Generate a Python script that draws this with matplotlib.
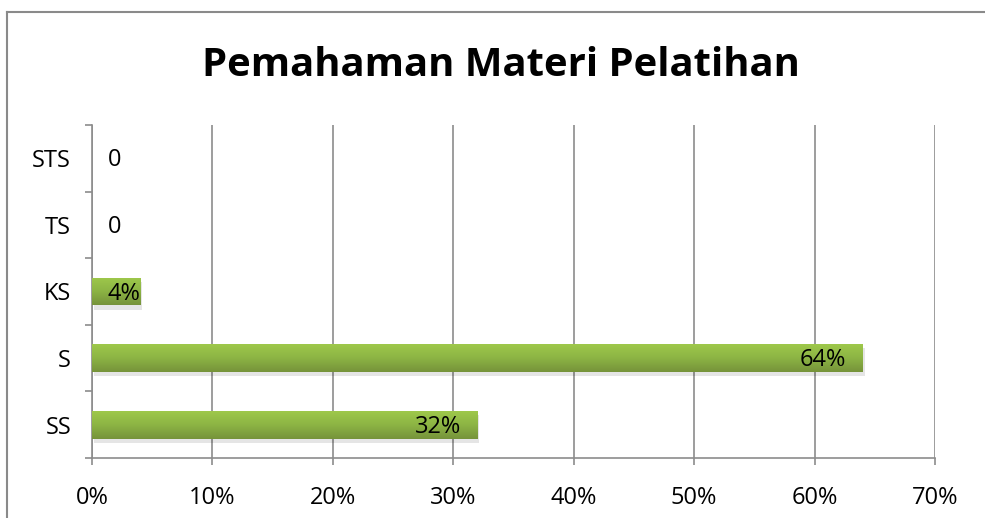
import numpy as np
import matplotlib
matplotlib.use("Agg")
import matplotlib.pyplot as plt
import matplotlib.patheffects as pe
from matplotlib.colors import LinearSegmentedColormap
from matplotlib.lines import Line2D

plt.rcParams['font.family'] = ['Open Sans', 'DejaVu Sans']

# data (bottom to top)
categories = ["SS", "S", "KS", "TS", "STS"]
values = [32, 64, 4, 0, 0]
labels = ["32%", "64%", "4%", "0", "0"]
x_ticks = [0, 10, 20, 30, 40, 50, 60, 70]

grid_col = "#8c8c8c"
# bottom (dark) -> top (light)
bar_cmap = LinearSegmentedColormap.from_list("bar", ["#76933a", "#8cb444", "#9ec84b"])

fig = plt.figure(figsize=(9.85, 5.18), dpi=100)
ax = fig.add_axes([92 / 985, 60 / 518, 843 / 985, 333 / 518])

y = np.arange(len(categories))
bars = ax.barh(y, values, height=0.42, color="#8cb444", zorder=3,
               path_effects=[pe.SimplePatchShadow(offset=(1.5, -3), shadow_rgbFace="#000000", alpha=0.1), pe.Normal()])

ax.set_xlim(0, 70)
ax.set_ylim(-0.5, len(categories) - 0.5)

# gradient fill on each bar
grad = np.linspace(0, 1, 64).reshape(-1, 1)
for b in bars:
    if b.get_width() <= 0:
        continue
    x0, y0 = b.get_x(), b.get_y()
    im = ax.imshow(grad, cmap=bar_cmap, aspect="auto", zorder=4, origin="lower",
                   extent=[x0, x0 + b.get_width(), y0, y0 + b.get_height()])
    im.set_clip_path(b)

# value labels
for yi, v, lab in zip(y, values, labels):
    if v < 10:
        ax.annotate(lab, (0, yi), xytext=(11.5, -1.5), textcoords="offset points",
                    ha="left", va="center", fontsize=17, zorder=6)
    else:
        ax.annotate(lab, (v, yi), xytext=(-12, -1.5), textcoords="offset points",
                    ha="right", va="center", fontsize=17, zorder=6)

ax.set_xticks(x_ticks)
ax.set_xticklabels([f"{t}%" for t in x_ticks], fontsize=17)
ax.set_yticks(y)
ax.set_yticklabels(categories, fontsize=17)
ax.set_yticks(np.arange(-0.5, len(categories)), minor=True)
ax.tick_params(axis="y", which="major", length=0, pad=15)
ax.tick_params(axis="y", which="minor", length=5, color=grid_col, width=1.2)
ax.tick_params(axis="x", length=5, color=grid_col, width=1.2, pad=15)

ax.grid(axis="x", color=grid_col, linewidth=1.2, zorder=0)
ax.set_axisbelow(True)
for s in ["top", "right"]:
    ax.spines[s].set_visible(False)
for s in ["left", "bottom"]:
    ax.spines[s].set_color(grid_col)
    ax.spines[s].set_linewidth(1.2)

fig.text(501 / 985, 1 - 66 / 518, "Pemahaman Materi Pelatihan", ha="center", va="center",
         fontsize=28.8, fontweight="bold")

# outer chart border
fig.add_artist(Line2D([7 / 985, 7 / 985], [0, 1 - 12 / 518], transform=fig.transFigure, color="#8a8a8a", lw=1.5))
fig.add_artist(Line2D([7 / 985, 1], [1 - 12 / 518, 1 - 12 / 518], transform=fig.transFigure, color="#8a8a8a", lw=1.5))

fig.savefig("out.png", dpi=100)
